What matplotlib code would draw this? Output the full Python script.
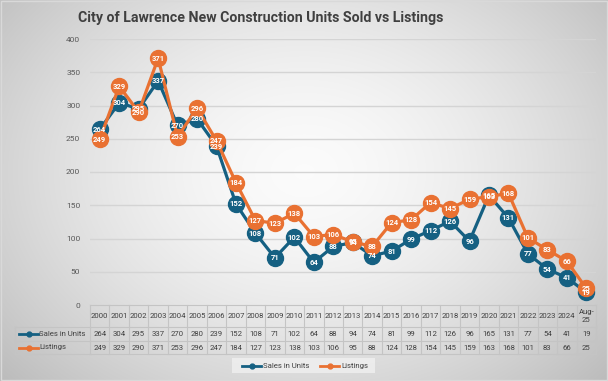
import numpy as np
import matplotlib
matplotlib.use("Agg")
import matplotlib.pyplot as plt
from matplotlib import transforms
from matplotlib.lines import Line2D
from matplotlib.patches import Rectangle

years = ["2000", "2001", "2002", "2003", "2004", "2005", "2006", "2007", "2008", "2009",
         "2010", "2011", "2012", "2013", "2014", "2015", "2016", "2017", "2018", "2019",
         "2020", "2021", "2022", "2023", "2024", "Aug-\n25"]
sales = [264, 304, 295, 337, 270, 280, 239, 152, 108, 71, 102, 64, 88, 94, 74, 81, 99,
         112, 126, 96, 165, 131, 77, 54, 41, 19]
listings = [249, 329, 290, 371, 253, 296, 247, 184, 127, 123, 138, 103, 106, 95, 88, 124,
            128, 154, 145, 159, 163, 168, 101, 83, 66, 25]
series_names = ["Sales in Units", "Listings"]

BLUE = "#156082"
ORANGE = "#E97132"
TXT = "#404040"
GRID = "#d4d4d4"
TBL = "#c4c4c4"

plt.rcParams['font.family'] = ['Roboto', 'DejaVu Sans']

W, H = 608, 381
fig = plt.figure(figsize=(W / 100, H / 100), dpi=100)

# radial gradient background
bg = fig.add_axes([0, 0, 1, 1], zorder=-10)
yy, xx = np.mgrid[0:H, 0:W]
r = np.sqrt(((xx - W * 0.5) / (W * 0.62)) ** 2 + ((yy - H * 0.45) / (H * 0.75)) ** 2)
val = 0.985 - 0.22 * np.clip(r, 0, 1.2) ** 1.6
bg.imshow(np.dstack([val, val, val]), aspect='auto', extent=[0, 1, 0, 1], origin='upper')
bg.add_patch(Rectangle((0.002, 0.003), 0.996, 0.994, fill=False, ec="#d9d9d9", lw=1,
                       transform=bg.transAxes))
bg.axis('off')

def fx(px):
    return px / W

def fy(py):
    return 1 - py / H

left, right, top, bottom = 90, 596, 39, 305
ax = fig.add_axes([fx(left), fy(bottom), fx(right) - fx(left), fy(top) - fy(bottom)])
ax.set_facecolor('none')
n = len(years)
x = np.arange(n)
ax.set_xlim(-0.5, n - 0.5)
ax.set_ylim(0, 400)
ax.set_yticks(range(0, 401, 50))
ax.tick_params(axis='y', length=0, pad=7, labelsize=6, labelcolor="#595959")
ax.set_xticks([])
for s in ax.spines.values():
    s.set_visible(False)
for v in range(50, 401, 50):
    ax.axhline(v, color=GRID, lw=1, zorder=0)

ax.plot(x, sales, color=BLUE, lw=2.3, marker='o', ms=11.5, mfc=BLUE, mec=BLUE, zorder=3,
        clip_on=False)
ax.plot(x, listings, color=ORANGE, lw=2.3, marker='o', ms=11.5, mfc=ORANGE, mec=ORANGE,
        zorder=4, clip_on=False)
for i in range(n):
    ax.text(x[i], sales[i], str(sales[i]), ha='center', va='center', color='white',
            fontsize=5.5, fontweight='bold', zorder=5, clip_on=False)
    ax.text(x[i], listings[i], str(listings[i]), ha='center', va='center', color='white',
            fontsize=5.5, fontweight='bold', zorder=6, clip_on=False)

fig.text(fx(261), fy(18), "City of Lawrence New Construction Units Sold vs Listings",
         ha='center', va='center', fontsize=10.2, fontweight='bold', color=TXT)

# data table
bt = transforms.blended_transform_factory(ax.transData, fig.transFigure)
row_y = [305, 327, 341, 354]
for ry in row_y:
    fig.add_artist(Line2D([fx(left), fx(right)], [fy(ry), fy(ry)], color=TBL, lw=0.8,
                          transform=fig.transFigure))
for ry in row_y[1:]:
    fig.add_artist(Line2D([fx(15), fx(left)], [fy(ry), fy(ry)], color=TBL, lw=0.8,
                          transform=fig.transFigure))
fig.add_artist(Line2D([fx(15), fx(15)], [fy(row_y[1]), fy(row_y[3])], color=TBL, lw=0.8,
                      transform=fig.transFigure))
for i in range(n + 1):
    fig.add_artist(Line2D([i - 0.5, i - 0.5], [fy(row_y[0]), fy(row_y[3])], color=TBL,
                          lw=0.8, transform=bt))
for i in range(n):
    fig.text(x[i], fy((row_y[0] + row_y[1]) / 2), years[i], transform=bt, ha='center',
             va='center', fontsize=5.6, color=TXT, linespacing=1.3)
    fig.text(x[i], fy((row_y[1] + row_y[2]) / 2), str(sales[i]), transform=bt, ha='center',
             va='center', fontsize=5.6, color=TXT)
    fig.text(x[i], fy((row_y[2] + row_y[3]) / 2), str(listings[i]), transform=bt,
             ha='center', va='center', fontsize=5.6, color=TXT)

for k, (name, col) in enumerate(zip(series_names, [BLUE, ORANGE])):
    yc = fy((row_y[k + 1] + row_y[k + 2]) / 2)
    fig.add_artist(Line2D([fx(19), fx(38)], [yc, yc], color=col, lw=2,
                          transform=fig.transFigure))
    fig.add_artist(Line2D([fx(28.5)], [yc], color=col, marker='o', ms=3.5,
                          transform=fig.transFigure))
    fig.text(fx(39), yc, name, ha='left', va='center', fontsize=5.6, color=TXT)

# legend
fig.add_artist(Rectangle((fx(232), fy(373)), fx(375) - fx(232), fy(358) - fy(373),
                         transform=fig.transFigure, fc="#efefef", ec='none', alpha=0.85))
ly = fy(366)
for name, col, x0 in [(series_names[0], BLUE, 242), (series_names[1], ORANGE, 320)]:
    fig.add_artist(Line2D([fx(x0), fx(x0 + 19)], [ly, ly], color=col, lw=2,
                          transform=fig.transFigure))
    fig.add_artist(Line2D([fx(x0 + 9.5)], [ly], color=col, marker='o', ms=3.5,
                          transform=fig.transFigure))
    fig.text(fx(x0 + 21), ly, name, ha='left', va='center', fontsize=5.6, color=TXT)

fig.savefig("out.png", dpi=100)
